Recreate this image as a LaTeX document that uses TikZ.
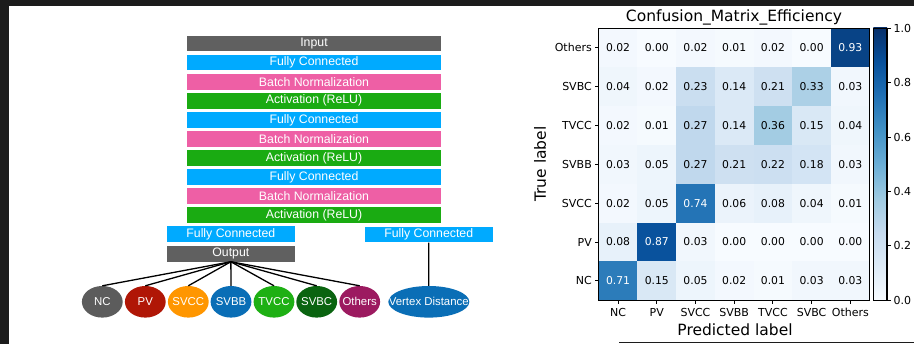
\documentclass[tikz,border=0pt]{standalone}
\usepackage{fontspec}
\setmainfont{Liberation Sans}
\newfontfamily\dejavu{DejaVu Sans}
\usetikzlibrary{shapes.geometric}
\definecolor{bl0}{RGB}{247,251,255}
\definecolor{bl1}{RGB}{222,235,247}
\definecolor{bl2}{RGB}{198,219,239}
\definecolor{bl3}{RGB}{158,202,225}
\definecolor{bl4}{RGB}{107,174,214}
\definecolor{bl5}{RGB}{66,146,198}
\definecolor{bl6}{RGB}{33,113,181}
\definecolor{bl7}{RGB}{8,81,156}
\definecolor{bl8}{RGB}{8,48,107}
\definecolor{cgray}{RGB}{96,96,96}
\definecolor{cfc}{RGB}{0,170,255}
\definecolor{cbn}{RGB}{238,95,165}
\definecolor{cact}{RGB}{26,171,18}
\definecolor{enc}{RGB}{92,92,92}
\definecolor{epv}{RGB}{176,22,6}
\definecolor{esvcc}{RGB}{255,150,0}
\definecolor{esvbb}{RGB}{10,110,182}
\definecolor{etvcc}{RGB}{30,176,20}
\definecolor{esvbc}{RGB}{10,100,16}
\definecolor{eoth}{RGB}{156,26,96}
\definecolor{dark}{RGB}{28,28,28}
\tikzset{
  layer/.style={minimum width=254pt, minimum height=15.7pt, inner sep=0pt, text=white, font=\fontsize{12.3}{14}\selectfont},
  half/.style={layer, minimum width=127.7pt},
  cls/.style={ellipse, minimum width=40.8pt, minimum height=31.6pt, inner sep=0pt},
  clstext/.style={text=white, inner sep=0pt, font=\fontsize{11.4}{13}\selectfont},
  link/.style={line width=1.3pt, black},
  celltext/.style={inner sep=0pt, font=\dejavu\fontsize{10.8}{12}\selectfont},
  ticklab/.style={inner sep=0pt, font=\dejavu\fontsize{11}{13}\selectfont},
  biglab/.style={inner sep=0pt, font=\dejavu\fontsize{15.5}{18}\selectfont},
}
\begin{document}
\begin{tikzpicture}[x=1pt, y=-1pt]
\useasboundingbox (0,0) rectangle (914,344);
\fill[white] (0,0) rectangle (914,344);
\fill[dark] (0,0) rectangle (914,6);
\fill[dark] (0,0) rectangle (9,344);
\draw[dark, line width=1.5pt] (619,342.6) -- (914,342.6);

% ---- network stack
\node[layer, fill=cgray] (in) at (314,43.55) {Input};
\node[layer, fill=cfc] (fc1) at (314,62.62) {Fully Connected};
\node[layer, fill=cbn] (bn1) at (314,81.69) {Batch Normalization};
\node[layer, fill=cact] (ac1) at (314,100.76) {Activation (ReLU)};
\node[layer, fill=cfc] (fc2) at (314,119.83) {Fully Connected};
\node[layer, fill=cbn] (bn2) at (314,138.9) {Batch Normalization};
\node[layer, fill=cact] (ac2) at (314,157.97) {Activation (ReLU)};
\node[layer, fill=cfc] (fc3) at (314,177.04) {Fully Connected};
\node[layer, fill=cbn] (bn3) at (314,196.11) {Batch Normalization};
\node[layer, fill=cact] (ac3) at (314,215.18) {Activation (ReLU)};
\node[half, fill=cfc] (fcl) at (230.85,234.3) {Fully Connected};
\node[half, fill=cgray] (out) at (230.85,253.7) {Output};
\node[half, fill=cfc] (fcr) at (428.7,234.5) {Fully Connected};

% ---- class ellipses
\foreach \nm/\cx/\col/\lab in {nc/102.3/enc/NC, pv/145.3/epv/PV, svcc/188.3/esvcc/SVCC, svbb/231/esvbb/SVBB, tvcc/274/etvcc/TVCC, svbc/316.7/esvbc/SVBC, oth/359.7/eoth/Others}{
  \node[cls, fill=\col] (\nm) at (\cx,301.8) {};
  \node[clstext] (\nm-t) at (\nm) {\lab};
  \draw[link] (out.south) -- (\nm.north);
}
\node[cls, fill=esvbb, minimum width=81pt] (vd) at (428.8,301.8) {};
\node[clstext] (vd-t) at (vd) {Vertex Distance};
\draw[link] (fcr.south) -- (vd.north);

% ---- confusion matrix
\foreach \r/\vals in {0/{0.02,0.00,0.02,0.01,0.02,0.00,0.93},
                      1/{0.04,0.02,0.23,0.14,0.21,0.33,0.03},
                      2/{0.02,0.01,0.27,0.14,0.36,0.15,0.04},
                      3/{0.03,0.05,0.27,0.21,0.22,0.18,0.03},
                      4/{0.02,0.05,0.74,0.06,0.08,0.04,0.01},
                      5/{0.08,0.87,0.03,0.00,0.00,0.00,0.00},
                      6/{0.71,0.15,0.05,0.02,0.01,0.03,0.03}}{
  \foreach \v [count=\c from 0] in \vals {
    \pgfmathtruncatemacro\segk{min(floor(\v/0.125),7)}
    \pgfmathtruncatemacro\segn{\segk+1}
    \pgfmathtruncatemacro\segt{round((\v-\segk*0.125)/0.125*100)}
    \pgfmathsetmacro\mx{598.7+\c*38.714}
    \pgfmathsetmacro\my{28.3+\r*38.857}
    \fill[bl\segn!\segt!bl\segk] (\mx,\my) rectangle ++(38.9,39.05);
    \ifdim\v pt>0.465pt \def\tcol{white}\else\def\tcol{black}\fi
    \node[celltext, text=\tcol] (cell-\r-\c) at (\mx+19.357,\my+19.43) {\v};
  }
}
\draw[line width=1.1pt] (598.7,28.3) rectangle (869.7,300.3);

\foreach \lab [count=\i from 0] in {NC,PV,SVCC,SVBB,TVCC,SVBC,Others}{
  \pgfmathsetmacro\tx{598.7+(\i+0.5)*38.714}
  \draw[line width=0.9pt] (\tx,300.3) -- (\tx,304);
  \node[ticklab] (xt-\i) at (\tx,312.7) {\lab};
}
\foreach \lab [count=\i from 0] in {Others,SVBC,TVCC,SVBB,SVCC,PV,NC}{
  \pgfmathsetmacro\ty{28.3+(\i+0.5)*38.857}
  \draw[line width=0.9pt] (598.7,\ty) -- (595,\ty);
  \node[ticklab, anchor=east] (yt-\i) at (592,\ty) {\lab};
}
\node[biglab, anchor=base] (title) at (734,22) {Confusion\_Matrix\_Efficiency};
\node[biglab, anchor=base] (xlab) at (735,336) {Predicted label};
\node[biglab, rotate=90] (ylab) at (540,164) {True label};

% ---- colour bar
\foreach \k [evaluate=\k as \kn using int(\k+1)] in {0,...,7}{
  \shade[bottom color=bl\k, top color=bl\kn] (873.3,{300.3-\k*34}) rectangle (887,{300.3-(\k+1)*34-0.3});
}
\draw[line width=1.1pt] (873.3,28.3) rectangle (887,300.3);
\foreach \lab [count=\i from 0] in {0.0,0.2,0.4,0.6,0.8,1.0}{
  \pgfmathsetmacro\cy{300.3-\i*54.4}
  \draw[line width=0.9pt] (887,\cy) -- (890.7,\cy);
  \node[ticklab, anchor=west] (cb-\i) at (893.5,\cy) {\lab};
}
\end{tikzpicture}
\end{document}
